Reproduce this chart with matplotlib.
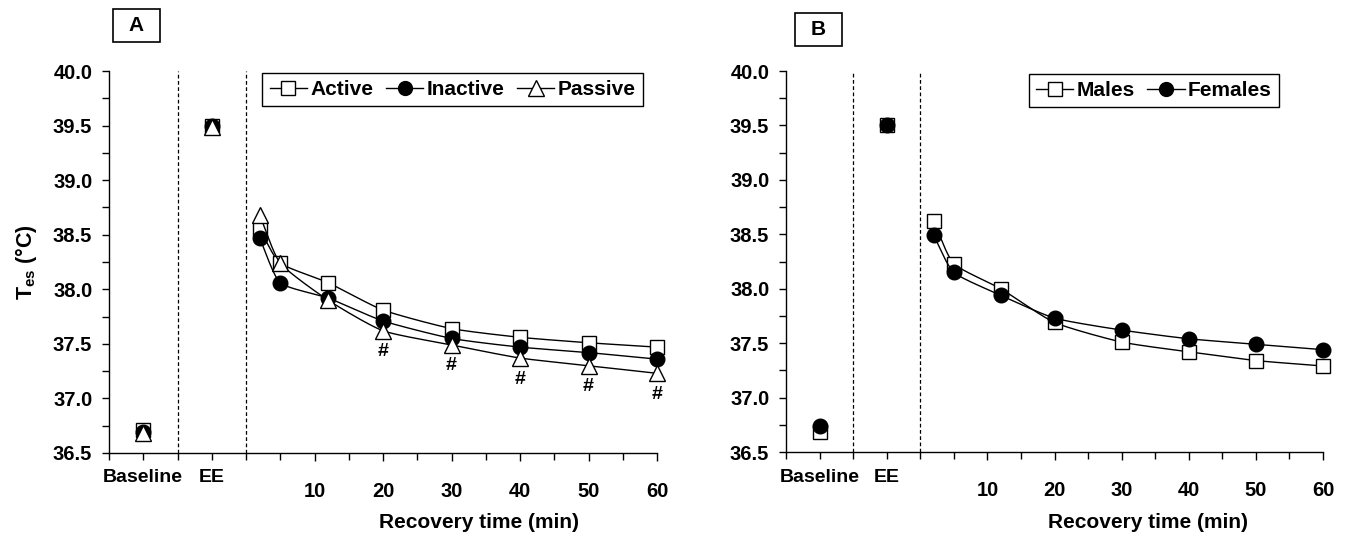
import numpy as np
import matplotlib
matplotlib.use("Agg")
import matplotlib.pyplot as plt
from matplotlib.patches import Rectangle
from matplotlib.ticker import MultipleLocator, FixedLocator

plt.rcParams['font.family'] = ['Liberation Sans', 'DejaVu Sans']
plt.rcParams['font.weight'] = 'bold'
plt.rcParams['mathtext.fontset'] = 'custom'
plt.rcParams['mathtext.rm'] = 'Liberation Sans:bold'
plt.rcParams['mathtext.bf'] = 'Liberation Sans:bold'

# ---- data ----
pre_labels = ["Baseline", "EE"]
pre_x = [-15, -5]
rec_time = [2, 5, 12, 20, 30, 40, 50, 60]
xtick_vals = [10, 20, 30, 40, 50, 60]

# Panel A
a_active_pre = [36.71, 39.50]
a_inactive_pre = [36.69, 39.50]
a_passive_pre = [36.68, 39.49]
a_active = [38.55, 38.24, 38.06, 37.81, 37.64, 37.56, 37.51, 37.47]
a_inactive = [38.47, 38.06, 37.92, 37.71, 37.55, 37.47, 37.42, 37.36]
a_passive = [38.68, 38.24, 37.90, 37.62, 37.49, 37.37, 37.30, 37.23]
hash_times = [20, 30, 40, 50, 60]

# Panel B
b_males_pre = [36.68, 39.50]
b_females_pre = [36.74, 39.50]
b_males = [38.62, 38.23, 38.00, 37.69, 37.51, 37.42, 37.34, 37.29]
b_females = [38.49, 38.15, 37.94, 37.73, 37.62, 37.54, 37.49, 37.44]


def smooth(x, y, n=30):
    """Catmull-Rom curve through the data points (like a spreadsheet 'smoothed line')."""
    x = np.asarray(x, float)
    y = np.asarray(y, float)
    P = np.column_stack([x, y])
    P = np.vstack([P[0] - (P[1] - P[0]), P, P[-1] + (P[-1] - P[-2])])
    out = []
    t = np.linspace(0, 1, n)[:, None]
    for i in range(1, len(P) - 2):
        p0, p1, p2, p3 = P[i - 1], P[i], P[i + 1], P[i + 2]
        m1 = (p2 - p0) / 2 * 0.6
        m2 = (p3 - p1) / 2 * 0.6
        h00 = 2 * t**3 - 3 * t**2 + 1
        h10 = t**3 - 2 * t**2 + t
        h01 = -2 * t**3 + 3 * t**2
        h11 = t**3 - t**2
        seg = h00 * p1 + h10 * m1 + h01 * p2 + h11 * m2
        out.append(seg if i == 1 else seg[1:])
    c = np.vstack(out)
    return c[:, 0], c[:, 1]


W, H = 1352, 541
fig = plt.figure(figsize=(W / 100, H / 100), dpi=100)

axA = fig.add_axes([109 / W, 1 - 453 / H, (657 - 109) / W, (453 - 71) / H])
axB = fig.add_axes([786 / W, 1 - 452 / H, (1323 - 786) / W, (452 - 71) / H])

styles = {
    'square': dict(marker='s', mfc='white', mec='black', ms=10.5, mew=1.0),
    'circle': dict(marker='o', mfc='black', mec='black', ms=10.5, mew=1.0),
    'tri': dict(marker='^', mfc='white', mec='black', ms=12, mew=1.0),
}


def draw_series(ax, pre, rec, style, label, z):
    xs, ys = smooth(rec_time, rec)
    ax.plot(xs, ys, color='black', lw=1.0, zorder=z, clip_on=False)
    ax.plot(pre_x, pre, ls='none', zorder=z + 0.5, clip_on=False, **styles[style])
    ax.plot(rec_time, rec, ls='none', zorder=z + 0.5, clip_on=False, **styles[style])
    # legend proxy
    leg_style = dict(styles[style])
    leg_style['ms'] = leg_style['ms'] * 0.95
    ax.plot([], [], color='black', lw=1.0, label=label, **leg_style)


def setup(ax):
    ax.set_xlim(-20, 60)
    ax.set_ylim(36.5, 40.0)
    for s in ['top', 'right']:
        ax.spines[s].set_visible(False)
    for s in ['left', 'bottom']:
        ax.spines[s].set_linewidth(1.0)
    ax.yaxis.set_major_locator(MultipleLocator(0.5))
    ax.yaxis.set_minor_locator(MultipleLocator(0.25))
    ax.set_yticklabels([f"{v:.1f}" for v in ax.get_yticks()])
    ax.xaxis.set_major_locator(FixedLocator(xtick_vals))
    ax.xaxis.set_minor_locator(FixedLocator([v for v in range(-20, 61, 5) if v not in xtick_vals]))
    ax.set_xticklabels([str(v) for v in xtick_vals])
    ax.tick_params(axis='x', which='major', direction='out', length=6, width=1,
                   pad=15, labelsize=14.5)
    ax.tick_params(axis='x', which='minor', direction='out', length=5, width=1)
    ax.tick_params(axis='y', which='major', direction='out', length=5, width=1,
                   pad=7, labelsize=14.5)
    ax.tick_params(axis='y', which='minor', direction='out', length=5, width=1)
    for v in (-10, 0):
        ax.axvline(v, color='black', lw=0.9, ls=(0, (3, 2)), zorder=1)
    for lab, xv in zip(pre_labels, pre_x):
        ax.annotate(lab, xy=(xv, 36.5), xytext=(0, -25), textcoords='offset pixels',
                    ha='center', va='center', fontsize=14, fontweight='bold',
                    annotation_clip=False)
    ax.annotate("Recovery time (min)", xy=(34, 36.5), xytext=(0, -70),
                textcoords='offset pixels', ha='center', va='center',
                fontsize=15, fontweight='bold', annotation_clip=False)


setup(axA)
draw_series(axA, a_active_pre, a_active, 'square', 'Active', 3)
draw_series(axA, a_inactive_pre, a_inactive, 'circle', 'Inactive', 4)
draw_series(axA, a_passive_pre, a_passive, 'tri', 'Passive', 5)
for t in hash_times:
    yv = a_passive[rec_time.index(t)]
    axA.annotate('#', xy=(t, yv), xytext=(0, -21), textcoords='offset pixels',
                 ha='center', va='center', fontsize=14, fontweight='bold',
                 annotation_clip=False)
axA.set_ylabel(r'T$_{\mathbf{es}}$ (°C)', fontsize=15.5, fontweight='bold', labelpad=10)

setup(axB)
draw_series(axB, b_males_pre, b_males, 'square', 'Males', 3)
draw_series(axB, b_females_pre, b_females, 'circle', 'Females', 4)

for ax, anchor in ((axA, (0.974, 0.995)), (axB, (0.918, 0.993))):
    leg = ax.legend(loc='upper right', bbox_to_anchor=anchor, ncol=3, frameon=True,
                    fancybox=False, edgecolor='black', framealpha=1,
                    prop=dict(size=15, weight='bold'), handlelength=1.8,
                    handletextpad=0.15, columnspacing=0.6, borderpad=0.35,
                    borderaxespad=0)
    leg.get_frame().set_linewidth(1.0)
    leg.set_zorder(10)

# panel letter boxes
for (x0, y0, letter) in ((113, 9, 'A'), (795, 13, 'B')):
    fig.patches.append(Rectangle((x0 / W, 1 - (y0 + 33) / H), 47 / W, 33 / H,
                                 transform=fig.transFigure, fill=False,
                                 edgecolor='black', lw=1.2))
    fig.text((x0 + 23.5) / W, 1 - (y0 + 16.5) / H, letter, ha='center', va='center',
             fontsize=15, fontweight='bold')

fig.savefig('out.png', dpi=100)
